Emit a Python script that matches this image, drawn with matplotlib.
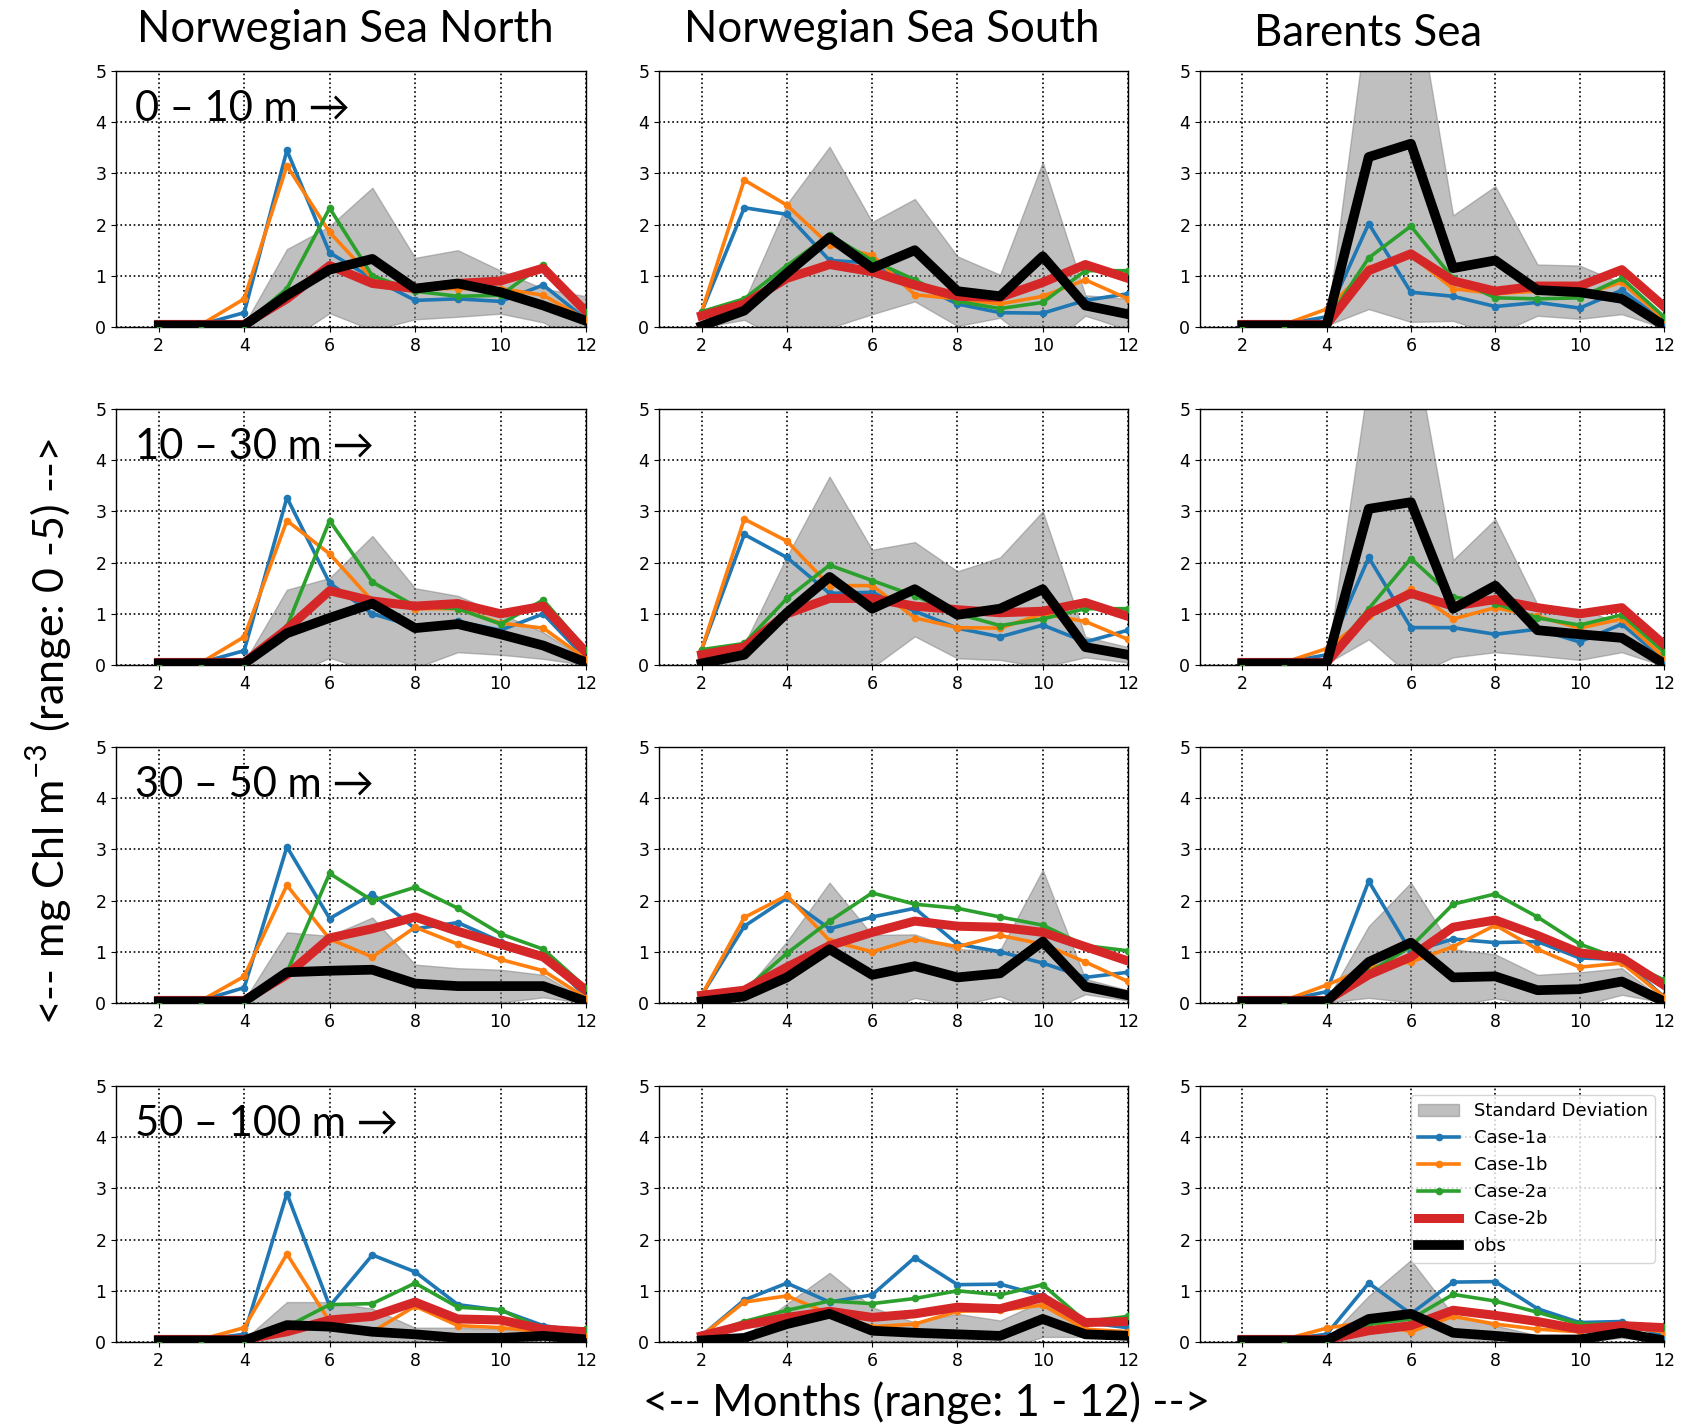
import matplotlib
matplotlib.use("Agg")
import matplotlib.pyplot as plt
import numpy as np

months = list(range(2, 13))
regions = ["Norwegian Sea North", "Norwegian Sea South", "Barents Sea"]
depths = ["0 – 10 m →", "10 – 30 m →", "30 – 50 m →", "50 – 100 m →"]
series_names = ["Case-1a", "Case-1b", "Case-2a", "Case-2b", "obs"]

# one row per panel, row-major: depth layer, then region (NSN, NSS, Barents)
case_1a = [
    [0.05, 0.05, 0.28, 3.45, 1.45, 0.95, 0.52, 0.55, 0.50, 0.82, 0.15],
    [0.30, 2.33, 2.20, 1.30, 1.25, 0.85, 0.45, 0.28, 0.27, 0.52, 0.65],
    [0.05, 0.05, 0.20, 2.02, 0.68, 0.60, 0.40, 0.48, 0.37, 0.72, 0.10],
    [0.05, 0.05, 0.28, 3.27, 1.60, 1.00, 0.75, 0.85, 0.68, 1.00, 0.12],
    [0.30, 2.55, 2.10, 1.40, 1.42, 1.05, 0.72, 0.55, 0.78, 0.45, 0.68],
    [0.05, 0.05, 0.20, 2.10, 0.73, 0.73, 0.60, 0.70, 0.45, 0.80, 0.10],
    [0.05, 0.05, 0.30, 3.05, 1.65, 2.13, 1.45, 1.57, 1.20, 0.95, 0.12],
    [0.15, 1.50, 2.05, 1.45, 1.68, 1.85, 1.15, 1.00, 0.78, 0.50, 0.60],
    [0.05, 0.05, 0.22, 2.38, 1.00, 1.25, 1.18, 1.20, 0.88, 0.85, 0.12],
    [0.05, 0.05, 0.15, 2.90, 0.70, 1.70, 1.37, 0.73, 0.62, 0.32, 0.20],
    [0.12, 0.82, 1.15, 0.78, 0.92, 1.65, 1.12, 1.13, 0.90, 0.38, 0.28],
    [0.05, 0.05, 0.15, 1.15, 0.55, 1.17, 1.18, 0.65, 0.38, 0.40, 0.12],
]
case_1b = [
    [0.05, 0.05, 0.55, 3.15, 1.85, 0.95, 0.75, 0.75, 0.75, 0.62, 0.15],
    [0.30, 2.87, 2.38, 1.60, 1.40, 0.63, 0.55, 0.45, 0.60, 0.92, 0.55],
    [0.05, 0.05, 0.35, 1.15, 1.40, 0.75, 0.65, 0.70, 0.60, 0.88, 0.15],
    [0.05, 0.05, 0.55, 2.82, 2.17, 1.25, 1.10, 1.10, 0.82, 0.72, 0.12],
    [0.30, 2.85, 2.42, 1.55, 1.55, 0.92, 0.73, 0.72, 1.00, 0.85, 0.50],
    [0.05, 0.05, 0.32, 0.95, 1.48, 0.90, 1.12, 0.95, 0.72, 0.90, 0.15],
    [0.05, 0.05, 0.52, 2.30, 1.25, 0.90, 1.48, 1.15, 0.85, 0.63, 0.10],
    [0.15, 1.67, 2.10, 1.22, 1.00, 1.25, 1.10, 1.32, 1.15, 0.80, 0.42],
    [0.05, 0.05, 0.35, 0.70, 0.80, 1.10, 1.52, 1.05, 0.70, 0.78, 0.12],
    [0.05, 0.05, 0.28, 1.72, 0.40, 0.20, 0.70, 0.32, 0.28, 0.20, 0.15],
    [0.12, 0.78, 0.90, 0.55, 0.30, 0.35, 0.60, 0.62, 0.72, 0.25, 0.20],
    [0.05, 0.05, 0.27, 0.40, 0.20, 0.50, 0.35, 0.25, 0.20, 0.30, 0.20],
]
case_2a = [
    [0.05, 0.05, 0.05, 0.75, 2.32, 1.00, 0.70, 0.60, 0.62, 1.22, 0.30],
    [0.30, 0.55, 1.20, 1.80, 1.30, 0.92, 0.50, 0.36, 0.48, 1.10, 1.10],
    [0.05, 0.05, 0.10, 1.35, 1.97, 0.95, 0.57, 0.55, 0.57, 0.95, 0.20],
    [0.05, 0.05, 0.05, 0.75, 2.82, 1.62, 1.15, 1.10, 0.80, 1.27, 0.30],
    [0.30, 0.42, 1.30, 1.95, 1.65, 1.35, 1.00, 0.77, 0.90, 1.10, 1.10],
    [0.05, 0.05, 0.10, 1.10, 2.08, 1.33, 1.20, 0.92, 0.78, 0.98, 0.25],
    [0.05, 0.05, 0.05, 0.60, 2.53, 2.00, 2.26, 1.85, 1.35, 1.05, 0.30],
    [0.15, 0.25, 0.97, 1.60, 2.15, 1.93, 1.85, 1.68, 1.52, 1.12, 1.02],
    [0.05, 0.05, 0.05, 0.60, 1.10, 1.93, 2.13, 1.68, 1.15, 0.85, 0.45],
    [0.05, 0.05, 0.05, 0.30, 0.73, 0.75, 1.15, 0.68, 0.63, 0.25, 0.25],
    [0.12, 0.40, 0.62, 0.80, 0.75, 0.85, 1.00, 0.92, 1.12, 0.40, 0.50],
    [0.05, 0.05, 0.05, 0.35, 0.45, 0.93, 0.80, 0.58, 0.35, 0.35, 0.30],
]
case_2b = [
    [0.05, 0.05, 0.05, 0.55, 1.20, 0.85, 0.75, 0.85, 0.90, 1.15, 0.30],
    [0.22, 0.45, 0.95, 1.22, 1.08, 0.82, 0.60, 0.58, 0.87, 1.22, 0.95],
    [0.05, 0.05, 0.05, 1.10, 1.43, 0.90, 0.70, 0.80, 0.80, 1.12, 0.40],
    [0.05, 0.05, 0.05, 0.70, 1.45, 1.25, 1.15, 1.20, 1.00, 1.15, 0.25],
    [0.20, 0.35, 1.00, 1.30, 1.30, 1.15, 1.08, 1.02, 1.05, 1.22, 0.95],
    [0.05, 0.05, 0.05, 1.00, 1.40, 1.15, 1.28, 1.12, 1.00, 1.12, 0.40],
    [0.05, 0.05, 0.05, 0.55, 1.27, 1.45, 1.68, 1.40, 1.15, 0.90, 0.25],
    [0.15, 0.25, 0.70, 1.12, 1.38, 1.60, 1.50, 1.48, 1.38, 1.10, 0.82],
    [0.05, 0.05, 0.05, 0.55, 0.90, 1.48, 1.62, 1.32, 0.98, 0.88, 0.35],
    [0.05, 0.05, 0.05, 0.20, 0.43, 0.50, 0.78, 0.45, 0.43, 0.25, 0.20],
    [0.12, 0.33, 0.48, 0.60, 0.48, 0.55, 0.68, 0.65, 0.87, 0.38, 0.40],
    [0.05, 0.05, 0.05, 0.22, 0.32, 0.62, 0.52, 0.40, 0.25, 0.32, 0.28],
]
obs = [
    [0.03, 0.03, 0.03, 0.62, 1.12, 1.33, 0.75, 0.85, 0.68, 0.42, 0.12],
    [0.02, 0.32, 1.05, 1.75, 1.15, 1.50, 0.70, 0.60, 1.38, 0.42, 0.25],
    [0.03, 0.03, 0.03, 3.32, 3.58, 1.15, 1.30, 0.72, 0.68, 0.55, 0.03],
    [0.03, 0.03, 0.03, 0.62, 0.92, 1.20, 0.72, 0.80, 0.60, 0.38, 0.05],
    [0.03, 0.20, 1.02, 1.72, 1.10, 1.48, 0.98, 1.10, 1.48, 0.35, 0.20],
    [0.03, 0.03, 0.03, 3.05, 3.18, 1.10, 1.55, 0.68, 0.60, 0.53, 0.03],
    [0.03, 0.03, 0.03, 0.60, 0.63, 0.65, 0.38, 0.33, 0.33, 0.33, 0.03],
    [0.03, 0.13, 0.50, 1.05, 0.55, 0.72, 0.50, 0.58, 1.20, 0.32, 0.15],
    [0.03, 0.03, 0.03, 0.80, 1.18, 0.50, 0.52, 0.25, 0.27, 0.42, 0.03],
    [0.03, 0.03, 0.03, 0.33, 0.30, 0.20, 0.15, 0.08, 0.08, 0.12, 0.05],
    [0.03, 0.08, 0.35, 0.55, 0.22, 0.18, 0.15, 0.12, 0.45, 0.15, 0.12],
    [0.03, 0.03, 0.03, 0.45, 0.55, 0.18, 0.12, 0.05, 0.05, 0.18, 0.03],
]
obs_std = [
    [0.00, 0.00, 0.02, 0.90, 0.85, 1.39, 0.60, 0.65, 0.42, 0.33, 0.48],
    [0.03, 0.18, 1.35, 1.77, 0.90, 1.00, 0.68, 0.42, 1.84, 0.20, 0.30],
    [0.00, 0.00, 0.00, 2.97, 3.48, 1.03, 1.45, 0.50, 0.52, 0.30, 0.05],
    [0.00, 0.00, 0.02, 0.85, 0.78, 1.32, 0.78, 0.55, 0.40, 0.26, 0.05],
    [0.03, 0.20, 1.10, 1.96, 1.15, 0.92, 0.85, 1.00, 1.52, 0.20, 0.15],
    [0.00, 0.00, 0.00, 2.55, 3.40, 0.95, 1.30, 0.50, 0.50, 0.28, 0.05],
    [0.00, 0.00, 0.02, 0.78, 0.68, 1.02, 0.37, 0.35, 0.32, 0.22, 0.03],
    [0.02, 0.10, 0.70, 1.30, 0.78, 0.62, 0.55, 0.45, 1.40, 0.15, 0.10],
    [0.00, 0.00, 0.02, 0.70, 1.17, 0.55, 0.43, 0.30, 0.33, 0.26, 0.02],
    [0.00, 0.00, 0.02, 0.45, 0.48, 0.45, 0.13, 0.20, 0.17, 0.08, 0.02],
    [0.02, 0.03, 0.40, 0.80, 0.46, 0.20, 0.40, 0.30, 0.35, 0.05, 0.03],
    [0.00, 0.00, 0.02, 0.45, 1.05, 0.35, 0.20, 0.08, 0.05, 0.10, 0.02],
]

W, H = 1706, 1428
fig = plt.figure(figsize=(W / 100, H / 100), dpi=100)

col_left = [116, 659, 1200]
col_width = [470, 469, 464]
row_top = [71, 409, 747, 1086]
row_height = 256
# title centres (pixels), the titles are not centred on the panels
title_x = [345, 892, 1368]
title_y = [30, 30, 34]

label_font = ["Lato", "DejaVu Sans"]

line_styles = [
    dict(color="#1f77b4", lw=2.6, marker="o", ms=4.5),
    dict(color="#ff7f0e", lw=2.6, marker="o", ms=4.5),
    dict(color="#2ca02c", lw=2.6, marker="o", ms=4.5),
    dict(color="#d62728", lw=6.5),
    dict(color="black", lw=7.0),
]

all_series = [case_1a, case_1b, case_2a, case_2b, obs]
legend_handles = None

for r in range(4):
    for c in range(3):
        i = r * 3 + c
        ax = fig.add_axes([col_left[c] / W, 1 - (row_top[r] + row_height) / H,
                           col_width[c] / W, row_height / H])
        o = np.array(obs[i])
        s = np.array(obs_std[i])
        band = ax.fill_between(months, o - s, o + s, color="gray", alpha=0.5,
                               label="Standard Deviation", zorder=1)
        handles = [band]
        for name, data, st in zip(series_names, all_series, line_styles):
            ln, = ax.plot(months, data[i], label=name, zorder=3, **st)
            handles.append(ln)
        if legend_handles is None:
            legend_handles = handles

        ax.set_xlim(1, 12)
        ax.set_ylim(0, 5)
        ax.set_xticks([2, 4, 6, 8, 10, 12])
        ax.set_yticks([0, 1, 2, 3, 4, 5])
        ax.tick_params(labelsize=12.5)
        ax.grid(True, color="black", linestyle=":", linewidth=1.2)
        ax.set_axisbelow(True)
        for sp in ax.spines.values():
            sp.set_linewidth(1.0)

        if c == 0:
            ax.text(0.04, 0.85, depths[r], transform=ax.transAxes, fontsize=30,
                    va="center", ha="left", family=label_font, zorder=5)

        if i == 11:
            ax.legend(handles=legend_handles, loc="upper right", fontsize=13,
                      handlelength=2.3)

for c in range(3):
    fig.text(title_x[c] / W, 1 - title_y[c] / H, regions[c], fontsize=31.5,
             ha="center", va="center", family=label_font)

fig.text(49 / W, 1 - 731 / H, "<-- mg Chl m$^{\\mathregular{-3}}$ (range: 0 -5) -->",
         rotation=90, ha="center", va="center", fontsize=31, family=label_font)
fig.text(927 / W, 1 - 1403 / H, "<-- Months (range: 1 - 12) -->",
         ha="center", va="center", fontsize=31.5, family=label_font)

fig.savefig("out.png", dpi=100)
